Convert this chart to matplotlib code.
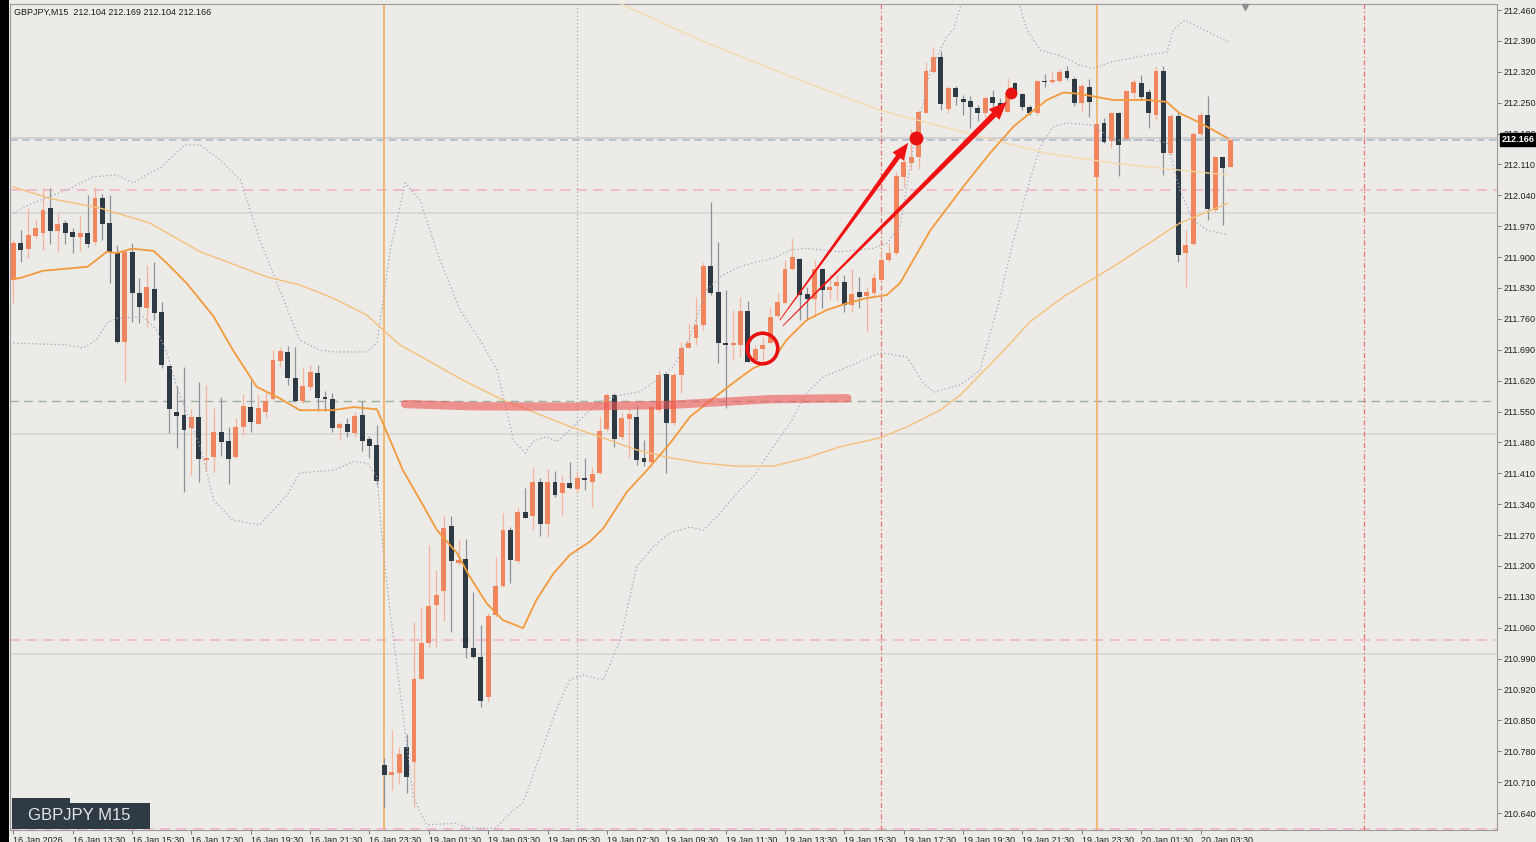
import matplotlib
matplotlib.use('Agg')
import matplotlib.pyplot as plt
import numpy as np
from matplotlib.patches import Polygon, Rectangle
from matplotlib.transforms import blended_transform_factory

plt.rcParams['font.family'] = ['Liberation Sans', 'DejaVu Sans']

# ---- candles (GBPJPY M15, 16 Jan 11:30 .. 20 Jan 04:30) ----
open_ = [211.848, 211.932, 211.918, 211.948, 211.955, 212.011, 211.959, 211.977, 211.957, 211.945,
         211.955, 211.934, 212.034, 211.977, 211.911, 211.708, 211.911, 211.819, 211.785, 211.828,
         211.775, 211.653, 211.549, 211.542, 211.513, 211.537, 211.440, 211.447, 211.504, 211.483,
         211.447, 211.515, 211.560, 211.522, 211.549, 211.578, 211.664, 211.685, 211.626, 211.574,
         211.606, 211.637, 211.583, 211.578, 211.513, 211.522, 211.501, 211.542, 211.488, 211.474,
         210.749, 210.726, 210.731, 210.790, 210.756, 210.944, 211.025, 211.111, 211.143, 211.290,
         211.207, 211.216, 211.014, 210.994, 210.903, 211.089, 211.155, 211.281, 211.211, 211.322,
         211.313, 211.390, 211.295, 211.390, 211.365, 211.388, 211.374, 211.399, 211.390, 211.411,
         211.510, 211.587, 211.492, 211.533, 211.537, 211.445, 211.436, 211.553, 211.635, 211.524,
         211.633, 211.694, 211.717, 211.746, 211.880, 211.821, 211.705, 211.701, 211.701, 211.778,
         211.667, 211.692, 211.705, 211.766, 211.796, 211.873, 211.896, 211.816, 211.805, 211.873,
         211.825, 211.834, 211.843, 211.791, 211.821, 211.812, 211.819, 211.848, 211.893, 211.909,
         212.081, 212.113, 212.127, 212.227, 212.320, 212.354, 212.236, 212.283, 212.258, 212.254,
         212.238, 212.227, 212.263, 212.249, 212.229, 212.295, 212.270, 212.240, 212.227, 212.299,
         212.297, 212.299, 212.322, 212.304, 212.249, 212.285, 212.081, 212.204, 212.163, 212.227,
         212.168, 212.272, 212.295, 212.274, 212.222, 212.322, 212.136, 212.220, 211.909, 211.930,
         212.179, 212.222, 212.007, 212.127, 212.104]
high = [211.939, 211.961, 212.011, 211.984, 212.057, 212.057, 212.000, 211.984, 211.966, 211.993,
        212.041, 212.059, 212.043, 212.041, 211.927, 211.916, 211.932, 211.853, 211.882, 211.889,
        211.798, 211.653, 211.608, 211.651, 211.556, 211.617, 211.610, 211.558, 211.583, 211.515,
        211.535, 211.590, 211.621, 211.590, 211.594, 211.689, 211.696, 211.698, 211.696, 211.649,
        211.655, 211.655, 211.596, 211.592, 211.526, 211.535, 211.549, 211.574, 211.494, 211.519,
        210.765, 210.828, 210.790, 210.819, 211.073, 211.107, 211.247, 211.191, 211.313, 211.313,
        211.259, 211.261, 211.141, 211.066, 211.093, 211.220, 211.320, 211.288, 211.334, 211.377,
        211.424, 211.399, 211.420, 211.415, 211.406, 211.436, 211.415, 211.445, 211.424, 211.537,
        211.592, 211.592, 211.547, 211.560, 211.565, 211.485, 211.560, 211.644, 211.637, 211.637,
        211.708, 211.751, 211.809, 211.889, 212.025, 211.934, 211.825, 211.780, 211.809, 211.800,
        211.701, 211.719, 211.787, 211.819, 211.893, 211.943, 211.898, 211.832, 211.893, 211.875,
        211.862, 211.859, 211.859, 211.873, 211.855, 211.832, 211.864, 211.916, 211.932, 212.093,
        212.149, 212.190, 212.233, 212.342, 212.376, 212.367, 212.288, 212.288, 212.267, 212.265,
        212.245, 212.265, 212.279, 212.261, 212.306, 212.297, 212.272, 212.245, 212.301, 212.315,
        212.320, 212.326, 212.333, 212.308, 212.295, 212.304, 212.204, 212.215, 212.229, 212.229,
        212.279, 212.304, 212.313, 212.281, 212.333, 212.333, 212.224, 212.227, 211.961, 212.183,
        212.229, 212.265, 212.129, 212.127, 212.169]
low = [211.796, 211.889, 211.898, 211.943, 211.916, 211.930, 211.911, 211.930, 211.909, 211.914,
       211.923, 211.927, 211.939, 211.841, 211.705, 211.617, 211.753, 211.751, 211.742, 211.757,
       211.649, 211.501, 211.467, 211.367, 211.406, 211.390, 211.417, 211.413, 211.449, 211.386,
       211.445, 211.497, 211.504, 211.522, 211.535, 211.576, 211.651, 211.610, 211.571, 211.569,
       211.599, 211.551, 211.551, 211.504, 211.485, 211.492, 211.492, 211.460, 211.445, 211.383,
       210.651, 210.692, 210.708, 210.685, 210.654, 210.941, 211.016, 211.016, 211.075, 211.050,
       211.202, 210.991, 210.991, 210.880, 210.892, 211.084, 211.152, 211.161, 211.207, 211.309,
       211.281, 211.268, 211.265, 211.356, 211.315, 211.374, 211.365, 211.372, 211.334, 211.408,
       211.506, 211.470, 211.485, 211.445, 211.429, 211.426, 211.424, 211.549, 211.411, 211.519,
       211.592, 211.694, 211.701, 211.735, 211.814, 211.660, 211.558, 211.667, 211.673, 211.662,
       211.662, 211.662, 211.705, 211.764, 211.796, 211.871, 211.757, 211.757, 211.764, 211.785,
       211.803, 211.800, 211.775, 211.775, 211.785, 211.732, 211.809, 211.841, 211.889, 211.905,
       212.059, 212.097, 212.100, 212.227, 212.317, 212.233, 212.227, 212.245, 212.222, 212.193,
       212.208, 212.218, 212.240, 212.227, 212.229, 212.267, 212.233, 212.222, 212.222, 212.285,
       212.295, 212.297, 212.301, 212.242, 212.231, 212.218, 212.079, 212.159, 212.147, 212.084,
       212.165, 212.256, 212.256, 212.193, 212.211, 212.086, 212.131, 211.889, 211.832, 211.927,
       212.174, 211.984, 212.002, 211.973, 212.104]
close = [211.932, 211.916, 211.950, 211.966, 212.007, 211.959, 211.975, 211.955, 211.945, 211.955,
         211.930, 212.034, 211.975, 211.911, 211.708, 211.911, 211.819, 211.787, 211.832, 211.773,
         211.655, 211.556, 211.540, 211.508, 211.537, 211.442, 211.445, 211.504, 211.481, 211.442,
         211.515, 211.563, 211.526, 211.558, 211.574, 211.667, 211.687, 211.626, 211.574, 211.608,
         211.640, 211.581, 211.578, 211.513, 211.522, 211.504, 211.540, 211.483, 211.472, 211.393,
         210.726, 210.733, 210.774, 210.722, 210.944, 211.025, 211.109, 211.134, 211.286, 211.211,
         211.213, 211.014, 210.994, 210.894, 211.086, 211.155, 211.281, 211.213, 211.322, 211.309,
         211.390, 211.295, 211.390, 211.361, 211.388, 211.377, 211.399, 211.395, 211.408, 211.506,
         211.587, 211.488, 211.535, 211.544, 211.440, 211.436, 211.560, 211.633, 211.524, 211.633,
         211.694, 211.705, 211.746, 211.880, 211.819, 211.705, 211.701, 211.705, 211.778, 211.662,
         211.692, 211.701, 211.764, 211.798, 211.873, 211.900, 211.814, 211.805, 211.873, 211.825,
         211.832, 211.843, 211.791, 211.816, 211.809, 211.821, 211.853, 211.893, 211.909, 212.084,
         212.115, 212.127, 212.229, 212.322, 212.354, 212.247, 212.283, 212.263, 212.251, 212.240,
         212.227, 212.261, 212.249, 212.231, 212.272, 212.272, 212.240, 212.227, 212.299, 212.297,
         212.301, 212.320, 212.306, 212.249, 212.288, 212.251, 212.202, 212.161, 212.227, 212.154,
         212.276, 212.297, 212.263, 212.227, 212.322, 212.136, 212.220, 211.905, 211.927, 212.179,
         212.222, 212.009, 212.127, 212.102, 212.166]

# ---- indicator lines (bar index, price) ----
ma_fast_x = [0, 1, 4, 10, 12.6, 13.9, 16, 18.9, 20.7, 23.4, 27, 29.6, 32.8, 35.9, 38.6, 43.1, 45.8, 49,
             49.8, 52.5, 54.8, 57.1, 59.8, 61.5, 63.8, 66, 68.7, 70.5, 72.8, 75, 77.7, 79.5, 82.7, 85.4,
             88.5, 91.2, 93.5, 97.5, 99.7, 102.4, 104.2, 106.9, 109.6, 112.3, 115, 117.7, 119.5, 123.6,
             128, 131.6, 134.8, 137, 139.3, 141.5, 143.7, 148.2, 152.7, 155.4, 157.2, 159, 161.7, 163.7]
ma_fast_y = [211.850, 211.853, 211.869, 211.878, 211.912, 211.909, 211.919, 211.914, 211.886, 211.840,
             211.765, 211.689, 211.606, 211.580, 211.553, 211.553, 211.560, 211.555, 211.524, 211.417,
             211.350, 211.281, 211.229, 211.176, 211.115, 211.077, 211.059, 211.123, 211.183, 211.225,
             211.255, 211.285, 211.368, 211.417, 211.478, 211.538, 211.569, 211.621, 211.648, 211.667,
             211.712, 211.757, 211.780, 211.795, 211.807, 211.814, 211.841, 211.961, 212.059, 212.135,
             212.196, 212.226, 212.256, 212.273, 212.270, 212.256, 212.256, 212.252, 212.226, 212.212,
             212.188, 212.169]

ma_mid_x = [0, 4.9, 11.7, 18.4, 25.2, 34.2, 38.6, 43.1, 47.6, 52.1, 60.6, 66, 75, 79.5, 84, 88.5, 92.9,
            97.5, 102.4, 106.9, 111.4, 116.8, 120.4, 124.9, 127.6, 132.9, 137, 141.7, 148.2, 157.2, 163.7]
ma_mid_y = [212.059, 212.033, 212.011, 211.977, 211.912, 211.855, 211.837, 211.807, 211.769, 211.701,
            211.621, 211.576, 211.516, 211.490, 211.463, 211.445, 211.433, 211.426, 211.426, 211.445,
            211.470, 211.490, 211.515, 211.553, 211.587, 211.678, 211.753, 211.812, 211.878, 211.977,
            212.022]

ma_slow_x = [80.7, 92.5, 106, 116.8, 130.3, 139.3, 148.2, 157.2, 163.7]
ma_slow_y = [212.483, 212.392, 212.301, 212.233, 212.173, 212.135, 212.113, 212.097, 212.086]

bb_up_x = [0, 2.7, 7.2, 10.8, 13.9, 16.2, 18.4, 19.8, 23.1, 25.2, 27.9, 30.6, 33.2, 35.9, 38.6, 41.3,
           43.1, 47.6, 49, 50.8, 52.8, 54.8, 57.5, 60.2, 62.9, 65.2, 67.4, 69, 70, 71.9, 73.3, 75, 77.3,
           79.5, 81.8, 84.4, 86.7, 88.9, 91.2, 93.4, 95.6, 97.9, 100.2, 102.4, 104.7, 106.9, 109.1,
           111.4, 113.7, 115.9, 117.7, 119.5, 120.5, 121.3, 123.6, 125.8, 126.7, 128.3, 131.6, 135,
           136.6, 138.4, 141.5, 143.7, 145.5, 148.2, 152.8, 155.5, 156.3, 157.9, 161.3, 163.7]
bb_up_y = [212.000, 212.023, 212.052, 212.082, 212.086, 212.068, 212.091, 212.102, 212.154, 212.154,
           212.120, 212.075, 211.939, 211.825, 211.712, 211.689, 211.685, 211.685, 211.705, 211.916,
           212.068, 212.029, 211.893, 211.780, 211.712, 211.644, 211.485, 211.456, 211.482, 211.493,
           211.482, 211.508, 211.547, 211.576, 211.587, 211.595, 211.621, 211.651, 211.719, 211.825,
           211.859, 211.878, 211.889, 211.897, 211.916, 211.920, 211.916, 211.912, 211.916, 211.920,
           211.931, 211.969, 212.070, 212.150, 212.324, 212.400, 212.415, 212.505, 212.551, 212.505,
           212.415, 212.369, 212.354, 212.335, 212.328, 212.343, 212.358, 212.365, 212.415, 212.437,
           212.408, 212.388]

bb_lo_x = [0, 7.2, 9.4, 11.2, 12.6, 13.9, 17.5, 19.3, 20.7, 22, 23.4, 25.2, 27, 29.6, 33.2, 36.9, 38.6,
           43.1, 45.8, 47.7, 49, 49.8, 50.8, 52.5, 53.9, 55.7, 59.8, 61.1, 65, 67.1, 68.7, 71.4, 73.3,
           75, 76.8, 79.5, 81.8, 84, 86.2, 88.5, 91.2, 93, 95.3, 97.5, 99.7, 102.4, 104.7, 106.9, 109.1,
           111.4, 113.7, 116.8, 120.4, 122.6, 124, 127.6, 130.3, 132.9, 134.7, 137, 138.4, 140.1, 142,
           145.5, 148.2, 152.8, 155.5, 157.2, 159, 160.9, 163.7]
bb_lo_y = [211.705, 211.701, 211.694, 211.712, 211.750, 211.761, 211.765, 211.735, 211.683, 211.606,
           211.547, 211.470, 211.349, 211.304, 211.293, 211.361, 211.411, 211.417, 211.436, 211.433,
           211.402, 211.243, 211.093, 210.867, 210.676, 210.613, 210.617, 210.606, 210.606, 210.642,
           210.663, 210.790, 210.880, 210.941, 210.953, 210.941, 211.032, 211.198, 211.243, 211.275,
           211.288, 211.281, 211.320, 211.365, 211.402, 211.470, 211.524, 211.592, 211.628, 211.644,
           211.660, 211.683, 211.674, 211.615, 211.594, 211.610, 211.644, 211.803, 211.932, 212.075,
           212.149, 212.195, 212.204, 212.199, 212.165, 212.165, 212.159, 212.052, 211.984, 211.961,
           211.950]

# ---- levels and markers ----
round_levels = [211.0, 211.5, 212.0]
pink_levels = [212.052, 211.032, 210.604]
support_level = 211.574
bid = 212.166
ask_level = 212.170
day_breaks = [50, 146]
dotted_vline = 76
red_vlines = [117, 182]

# hand-drawn annotations
zone_x = [52.8, 61.6, 75.0, 88.5, 102.0, 112.4]
zone_y = [211.567, 211.562, 211.561, 211.565, 211.578, 211.580]
circle_pt = (100.9, 211.694)
arrows = [((103.3, 211.757), (120.6, 212.159)),
          ((103.7, 211.744), (133.9, 212.252))]
dots = [(121.7, 212.170), (134.5, 212.272)]

tick_bars = list(range(0, 161, 8))
tick_labels = ['16 Jan 2026', '16 Jan 13:30', '16 Jan 15:30', '16 Jan 17:30', '16 Jan 19:30',
               '16 Jan 21:30', '16 Jan 23:30', '19 Jan 01:30', '19 Jan 03:30', '19 Jan 05:30',
               '19 Jan 07:30', '19 Jan 09:30', '19 Jan 11:30', '19 Jan 13:30', '19 Jan 15:30',
               '19 Jan 17:30', '19 Jan 19:30', '19 Jan 21:30', '19 Jan 23:30', '20 Jan 01:30',
               '20 Jan 03:30']
price_ticks = [round(210.64 + 0.07 * k, 3) for k in range(27)]

BG = '#ECEBE7'
W, H = 1536, 842
fig = plt.figure(figsize=(W / 100, H / 100), dpi=100)
fig.patch.set_facecolor(BG)
ax = fig.add_axes([10 / W, (H - 830) / H, 1487 / W, 826 / H])
ax.set_facecolor(BG)
ax.set_xlim(-0.45, 199.96)
ax.set_ylim(210.6015, 212.4736)

# background levels
for lv in round_levels:
    ax.axhline(lv, color='#D7D6D2', lw=1.2, zorder=1)
for lv in pink_levels:
    ax.axhline(lv, color='#F0B4C8', lw=1.2, ls=(0, (6, 4)), zorder=1)
ax.axhline(support_level, color='#9DAF9D', lw=1.0, ls=(0, (6, 4)), zorder=1)
ax.axhline(ask_level, color='#CFCFCF', lw=1.3, zorder=1)
ax.axhline(bid, color='#A9B8CC', lw=1.1, ls=(0, (5, 3)), zorder=1)
for b in day_breaks:
    ax.axvline(b, color='#F2B263', lw=1.2, zorder=1)
ax.axvline(dotted_vline, color='#A8A8A8', lw=0.9, ls=(0, (1, 2)), zorder=1)
for b in red_vlines:
    ax.axvline(b, color='#EE6E6E', lw=0.9, ls=(0, (4, 2, 1, 2)), zorder=1)

# candles
o = np.array(open_); hi = np.array(high); lo = np.array(low); c = np.array(close)
x = np.arange(len(c))
up = c >= o
ax.vlines(x[up], lo[up], hi[up], color='#F3B59D', lw=0.9, zorder=3)
ax.vlines(x[~up], lo[~up], hi[~up], color='#8C939B', lw=0.9, zorder=3)
body_h = np.maximum(np.abs(c - o), 0.0026)
body_b = np.minimum(o, c)
ax.bar(x[up], body_h[up], bottom=body_b[up], width=0.66, color='#F0855E', lw=0, zorder=4)
ax.bar(x[~up], body_h[~up], bottom=body_b[~up], width=0.66, color='#2D3943', lw=0, zorder=4)

# indicators
ax.plot(bb_up_x, bb_up_y, color='#A4A4BE', lw=0.9, ls=(0, (1, 2)), zorder=5)
ax.plot(bb_lo_x, bb_lo_y, color='#A4A4BE', lw=0.9, ls=(0, (1, 2)), zorder=5)
ax.plot(ma_slow_x, ma_slow_y, color='#F8D9A8', lw=0.9, zorder=5)
ax.plot(ma_mid_x, ma_mid_y, color='#F6C07A', lw=1.0, zorder=5)
ax.plot(ma_fast_x, ma_fast_y, color='#F39A3C', lw=1.3, zorder=6)

# annotations
ax.plot(zone_x, zone_y, color='#EE5A5A', alpha=0.62, lw=6, solid_capstyle='round', zorder=7)
ax.plot([circle_pt[0]], [circle_pt[1]], marker='o', ms=22, mfc='none', mec='#E81010', mew=2.6, zorder=8)


def wedge_arrow(start, end, w_shaft, w_head, l_head, color):
    p0 = ax.transData.transform(start)
    p1 = ax.transData.transform(end)
    d = p1 - p0
    u = d / np.hypot(*d)
    n = np.array([-u[1], u[0]])
    base = p1 - u * l_head
    pts = [p0 + n * 0.4, base + n * w_shaft / 2, base + n * w_head / 2, p1,
           base - n * w_head / 2, base - n * w_shaft / 2, p0 - n * 0.4]
    pts = ax.transData.inverted().transform(np.array(pts))
    ax.add_patch(Polygon(pts, closed=True, fc=color, ec='none', zorder=8))


wedge_arrow(arrows[0][0], arrows[0][1], 5, 14, 17, '#F01212')
wedge_arrow(arrows[1][0], arrows[1][1], 6, 15, 18, '#F01212')
ax.plot([dots[0][0]], [dots[0][1]], 'o', ms=10, color='#E81010', mec='none', zorder=9)
ax.plot([dots[1][0]], [dots[1][1]], 'o', ms=8.5, color='#E81010', mec='none', zorder=9)

# chart-shift marker
tr = blended_transform_factory(ax.transData, ax.transAxes)
ax.plot([166], [0.996], marker='v', ms=5, color='#8E8E8E', transform=tr, clip_on=False, zorder=9)

# axes styling
for s in ax.spines.values():
    s.set_color('#9C9C9C')
    s.set_linewidth(0.8)
ax.yaxis.tick_right()
ax.set_yticks(price_ticks)
ax.set_yticklabels([f'{v:.3f}' for v in price_ticks])
ax.tick_params(axis='y', length=3, width=0.7, color='#777777', labelsize=6.5, labelcolor='#1E1E1E', pad=2)
ax.set_xticks(tick_bars)
ax.set_xticklabels(tick_labels, ha='left')
ax.tick_params(axis='x', length=3, width=0.7, color='#777777', labelsize=6.5, labelcolor='#1E1E1E', pad=1)

ax.annotate(f'{bid:.3f}', xy=(1.0, bid), xycoords=('axes fraction', 'data'), xytext=(3.5, 0),
            textcoords='offset points', ha='left', va='center', fontsize=6.5, color='white',
            fontweight='bold',
            bbox=dict(boxstyle='square,pad=0.2', fc='black', ec='black'), annotation_clip=False, zorder=10)

ax.text(0.0027, 0.995, 'GBPJPY,M15  212.104 212.169 212.104 212.166', transform=ax.transAxes,
        ha='left', va='top', fontsize=6.5, color='#1A1A1A', zorder=10)

# left black strip (neighbouring window) and symbol badge
fig.patches.append(Rectangle((0, 0), 9 / W, 1, transform=fig.transFigure, fc='black', ec='none', zorder=6))
fig.patches.append(Rectangle((12 / W, (H - 829) / H), 138 / W, 26 / H, transform=fig.transFigure,
                             fc='#2E3A44', ec='none', zorder=6))
fig.patches.append(Rectangle((12 / W, (H - 803) / H), 58 / W, 5 / H, transform=fig.transFigure,
                             fc='#2E3A44', ec='none', zorder=6))
fig.text(28 / W, (H - 816) / H, 'GBPJPY M15', ha='left', va='center', fontsize=12, color='#E4E4E4', zorder=7)

fig.savefig('out.png', dpi=100, facecolor=BG)
